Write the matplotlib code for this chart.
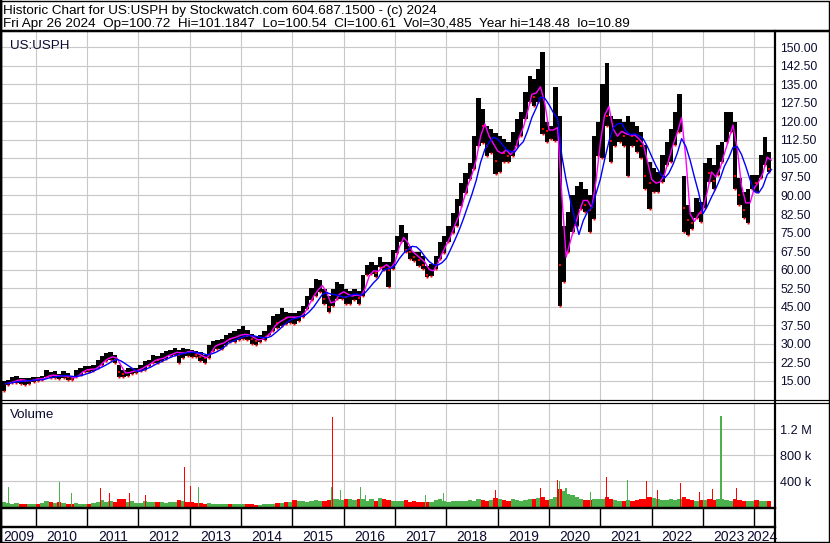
import numpy as np
import pandas as pd
import matplotlib
matplotlib.use("Agg")
import matplotlib.pyplot as plt

plt.rcParams["font.family"] = ["Liberation Sans", "DejaVu Sans"]

# monthly bars, May 2009 .. Apr 2024
months = pd.period_range("2009-05", "2024-04", freq="M")

month_lo = [
    10.9, 13.4, 14.0, 14.0, 13.8, 13.4, 13.6, 14.5,
    14.7, 15.1, 16.3, 16.0, 16.0, 15.7, 16.0, 15.4, 15.1, 16.5, 17.4, 18.4,
    18.4, 18.8, 20.2, 21.5, 22.9, 23.3, 22.2, 16.5, 16.5, 17.0, 17.8, 18.1,
    18.8, 19.5, 20.8, 22.2, 22.2, 22.9, 23.8, 24.9, 25.6, 22.2, 24.2, 24.9,
    24.5, 24.5, 23.0, 22.3, 24.0, 27.0, 28.0, 28.0, 29.5, 30.5, 30.5, 31.5,
    32.0, 31.5, 30.0, 29.5, 30.5, 31.5, 33.5, 35.0, 36.5, 37.0, 38.0, 38.5,
    38.0, 39.3, 40.7, 44.0, 47.5, 49.5, 50.8, 46.1, 42.7, 45.4, 48.1, 48.1,
    46.1, 46.1, 47.5, 46.1, 49.5, 57.6, 58.3, 57.0, 61.0, 59.7, 52.9, 60.2,
    66.9, 71.0, 67.0, 64.2, 63.6, 61.5, 60.2, 56.8, 57.5, 60.2, 64.2, 66.9,
    71.0, 75.0, 77.7, 85.8, 91.2, 96.6, 100.6, 110.0, 111.4, 106.0, 107.4, 98.7,
    99.4, 103.4, 103.4, 106.1, 110.2, 114.0, 121.0, 127.7, 126.4, 127.7, 115.0, 111.5,
    112.9, 112.0, 45.4, 55.0, 67.0, 75.1, 77.8, 84.5, 83.2, 75.1, 80.5, 106.0,
    105.0, 118.0, 103.4, 110.2, 111.5, 110.2, 98.0, 110.2, 107.6, 105.0, 92.8, 84.7,
    91.5, 91.5, 95.5, 102.3, 103.6, 110.3, 115.7, 75.3, 74.0, 76.6, 80.7, 79.3,
    85.0, 95.5, 92.8, 98.2, 103.6, 111.7, 115.7, 92.8, 86.0, 80.7, 78.7, 92.8,
    91.5, 96.9, 102.3, 99.6,
]
month_hi = [
    14.8, 15.4, 16.5, 16.8, 16.0, 16.0, 16.0, 16.3,
    16.5, 17.0, 19.2, 18.6, 18.8, 17.8, 18.8, 18.1, 17.0, 19.2, 20.2, 21.1,
    21.0, 21.5, 23.5, 24.9, 26.3, 26.5, 25.6, 21.5, 19.5, 20.2, 20.2, 20.2,
    21.5, 22.9, 23.5, 25.6, 24.9, 26.3, 27.0, 27.6, 28.3, 27.6, 28.3, 28.0,
    27.5, 27.0, 26.5, 25.5, 29.5, 31.0, 31.5, 32.0, 33.5, 34.5, 35.0, 36.0,
    37.3, 35.5, 34.0, 33.0, 33.5, 35.0, 37.5, 41.0, 42.0, 44.3, 43.0, 42.5,
    42.5, 43.4, 45.4, 49.5, 52.5, 56.3, 55.6, 52.2, 49.5, 52.2, 55.0, 54.2,
    52.2, 51.5, 52.2, 51.5, 57.6, 61.7, 63.0, 61.7, 65.0, 63.0, 63.0, 68.0,
    73.7, 78.0, 75.0, 69.6, 67.0, 67.0, 65.6, 61.5, 62.2, 65.6, 71.0, 73.7,
    77.7, 83.0, 88.5, 95.2, 99.3, 103.3, 114.0, 129.6, 125.0, 118.0, 116.8, 115.5,
    114.0, 112.9, 111.5, 115.6, 121.0, 123.7, 131.8, 138.5, 137.2, 141.2, 148.3, 119.6,
    118.3, 134.0, 122.3, 77.8, 83.2, 90.0, 94.0, 95.3, 92.6, 90.0, 114.2, 119.6,
    135.0, 143.7, 122.3, 121.0, 121.0, 119.6, 122.3, 119.6, 118.0, 115.7, 110.3, 103.6,
    101.0, 99.6, 106.3, 111.7, 117.0, 123.8, 131.2, 98.0, 86.0, 83.4, 88.8, 87.4,
    103.0, 105.0, 102.3, 110.3, 111.7, 123.8, 123.8, 119.8, 96.9, 91.5, 92.8, 98.2,
    98.2, 106.3, 113.7, 107.6,
]
month_close = [
    13.8, 14.3, 15.0, 15.5, 15.2, 14.8, 15.2, 15.8,
    15.6, 16.2, 17.5, 17.0, 17.2, 16.8, 17.0, 16.5, 15.8, 18.0, 19.0, 19.8,
    19.5, 20.0, 22.0, 23.5, 24.5, 24.8, 23.5, 18.5, 17.8, 18.8, 19.0, 19.5,
    20.5, 21.5, 22.5, 24.0, 23.5, 24.8, 25.5, 26.0, 27.0, 25.5, 27.0, 26.8,
    26.5, 25.5, 24.5, 24.0, 28.5, 29.5, 30.0, 30.5, 32.5, 32.0, 33.5, 33.5,
    34.0, 33.0, 32.0, 31.0, 32.5, 33.5, 35.5, 39.0, 38.5, 41.0, 40.5, 41.0,
    40.5, 41.5, 44.0, 48.0, 50.5, 53.0, 54.0, 48.0, 45.0, 49.0, 51.0, 51.0,
    49.0, 49.5, 50.0, 48.5, 56.0, 59.0, 60.0, 58.5, 63.0, 61.0, 60.0, 66.0,
    72.0, 74.0, 68.0, 67.0, 65.0, 64.0, 62.0, 58.0, 61.0, 64.0, 69.0, 71.0,
    76.0, 80.0, 84.0, 92.0, 96.0, 101.0, 108.0, 120.0, 118.0, 110.0, 112.0, 104.0,
    110.0, 107.0, 106.0, 111.0, 116.0, 119.0, 129.0, 133.0, 130.0, 138.0, 117.0, 116.0,
    117.0, 118.0, 62.0, 68.0, 75.0, 80.0, 86.0, 90.0, 86.0, 84.0, 108.0, 115.0,
    130.0, 122.0, 112.0, 116.0, 116.0, 114.0, 115.0, 114.0, 112.0, 110.0, 98.0, 95.0,
    95.0, 96.0, 101.0, 108.0, 113.0, 118.0, 125.0, 85.0, 80.0, 79.0, 86.0, 83.0,
    100.0, 99.0, 96.0, 106.0, 108.0, 117.0, 120.0, 98.0, 90.0, 84.0, 90.0, 96.0,
    95.0, 103.0, 108.0, 100.61,
]
# typical volume per month, thousands of shares
month_vol = [
    70, 60, 50, 55, 45, 50, 45, 50,
    50, 60, 90, 80, 60, 70, 55, 45, 40, 55, 50, 45,
    50, 60, 80, 110, 70, 90, 70, 130, 120, 80, 90, 60,
    60, 90, 70, 80, 75, 70, 60, 70, 80, 110, 90, 70,
    70, 60, 65, 50, 55, 50, 45, 40, 40, 45, 40, 40,
    40, 45, 40, 35, 35, 40, 45, 50, 55, 60, 70, 80,
    110, 90, 85, 80, 100, 110, 90, 100, 110, 130, 120, 110,
    120, 130, 110, 120, 130, 100, 120, 100, 140, 130, 110, 100,
    100, 90, 110, 80, 90, 80, 70, 70, 80, 110, 120, 90,
    80, 90, 100, 90, 100, 110, 90, 120, 110, 100, 110, 140,
    130, 110, 100, 120, 110, 100, 110, 120, 130, 140, 150, 110,
    120, 160, 280, 250, 200, 180, 160, 130, 110, 110, 130, 120,
    130, 150, 130, 110, 100, 100, 110, 100, 110, 120, 130, 160,
    140, 120, 110, 110, 120, 110, 120, 150, 120, 110, 100, 110,
    110, 120, 110, 120, 130, 110, 100, 120, 110, 100, 90, 100,
    110, 100, 95, 90,
]
# single-day volume spikes
spike_date = [2009.47, 2010.47, 2010.70, 2011.27, 2011.44, 2011.83, 2012.14, 2012.90,
              2013.01, 2013.17, 2015.77, 2015.79, 2015.94, 2016.32, 2016.43, 2017.60,
              2017.94, 2018.95, 2019.83, 2020.17, 2020.20, 2020.33, 2020.81, 2021.12,
              2021.53, 2021.90, 2022.12, 2022.56, 2022.93, 2023.18, 2023.35, 2023.66]
spike_vol = [306, 390, 221, 292, 221, 221, 193, 612,
             329, 315, 315, 1390, 268, 315, 188, 188,
             221, 259, 292, 424, 400, 292, 235, 456,
             414, 400, 268, 376, 235, 273, 1400, 296]
spike_up = [1, 1, 1, 0, 0, 0, 0, 0,
            0, 1, 1, 0, 1, 1, 1, 1,
            1, 0, 0, 0, 1, 1, 1, 0,
            1, 0, 0, 0, 0, 0, 1, 0]

price_ticks = [15.0, 22.5, 30.0, 37.5, 45.0, 52.5, 60.0, 67.5, 75.0, 82.5,
               90.0, 97.5, 105.0, 112.5, 120.0, 127.5, 135.0, 142.5, 150.0]
vol_ticks = [400, 800, 1200]
vol_labels = ["400 k", "800 k", "1.2 M"]
years = list(range(2010, 2025))
year_labels = [str(y) for y in range(2009, 2025)]

W, H = 830, 543
TXT = "#0c0c30"
GRID = "#c8c8c8"
GREEN = "#4cb04c"
RED = "#ff0000"


def box(x0, y0, x1, y1):
    # pixel box, y measured from the top
    return [x0 / W, 1 - y1 / H, (x1 - x0) / W, (y1 - y0) / H]


t_start = np.array([m.year + (m.month - 1) / 12 for m in months])
t_mid = t_start + 1 / 24
t_end = t_start + 1 / 12
lo = np.array(month_lo)
hi = np.array(month_hi)
close = pd.Series(month_close)
down = close.diff().fillna(0).values < 0

xlim = (2009.324, 2024.383)

fig = plt.figure(figsize=(W / 100, H / 100), dpi=100)

# price panel
axp = fig.add_axes(box(1, 31.5, 774, 399.5))
axp.bar(t_mid, hi - lo, bottom=lo, width=1 / 12, color="black", linewidth=0, zorder=3)
axp.plot(t_mid[down], close[down], "s", ms=1.6, mew=0, color="red", zorder=4)
axp.plot(t_mid, lo, "s", ms=1.4, mew=0, color="red", zorder=4)
axp.plot(t_end, close.rolling(2, min_periods=1).mean(), color="magenta", lw=1, zorder=5)
axp.plot(t_end, close.rolling(5, min_periods=1).mean(), color="#0000ff", lw=1, zorder=6)
axp.set_xlim(*xlim)
axp.set_ylim(7.39, 156.4)
axp.set_yticks(price_ticks)
axp.set_yticklabels([f"{v:.2f}" for v in price_ticks])
axp.yaxis.tick_right()
axp.tick_params(axis="y", length=0, pad=4.5, labelsize=8.8, labelcolor=TXT)
axp.set_xticks(years)
axp.tick_params(axis="x", length=0, labelbottom=False)
axp.grid(color=GRID, lw=0.8, zorder=0)
axp.set_axisbelow(True)
for s in axp.spines.values():
    s.set_visible(False)
axp.text(0.011, 0.978, "US:USPH", transform=axp.transAxes, va="top", ha="left",
         fontsize=9.6, color=TXT)

# volume panel
axv = fig.add_axes(box(1, 403, 774, 507))
vcol = [RED if d else GREEN for d in down]
axv.bar(t_mid, month_vol, width=1 / 12, color=vcol, linewidth=0, zorder=3)
axv.bar(spike_date, spike_vol, width=0.022, color=[GREEN if u else RED for u in spike_up],
        linewidth=0, zorder=3)
axv.set_xlim(*xlim)
axv.set_ylim(0, 1606)
axv.set_yticks(vol_ticks)
axv.set_yticklabels(vol_labels)
axv.yaxis.tick_right()
axv.tick_params(axis="y", length=0, pad=4.5, labelsize=9.2, labelcolor=TXT)
axv.set_xticks(years)
axv.tick_params(axis="x", length=0, labelbottom=False)
axv.grid(color=GRID, lw=0.8, zorder=0)
axv.set_axisbelow(True)
for s in axv.spines.values():
    s.set_visible(False)
axv.text(0.011, 0.94, "Volume", transform=axv.transAxes, va="top", ha="left",
         fontsize=9.6, color=TXT)

# year strip + labels
axs = fig.add_axes(box(1, 509, 774, 526))
axs.set_xlim(*xlim)
axs.set_ylim(0, 1)
axs.set_yticks([])
axs.set_xticks(years)
axs.tick_params(axis="x", which="major", length=0, labelbottom=False)
axs.grid(axis="x", color="black", lw=1.0)
centers = [(xlim[0] + 2010) / 2] + [y + 0.5 for y in range(2010, 2024)] + [2024.15]
axs.set_xticks(centers, minor=True)
axs.set_xticklabels(year_labels, minor=True)
axs.tick_params(axis="x", which="minor", length=0, pad=2.6, labelsize=10, labelcolor=TXT)
for s in axs.spines.values():
    s.set_visible(False)

# frame lines and header, in pixel coordinates
ov = fig.add_axes([0, 0, 1, 1], zorder=10)
ov.set_xlim(0, W)
ov.set_ylim(H, 0)
ov.axis("off")
ov.patch.set_alpha(0)
px = 0.72
ov.plot([0.5, 828.5, 828.5, 0.5, 0.5], [0.5, 0.5, 541.5, 541.5, 0.5], color="black", lw=1.4 * px)
ov.plot([1, 1], [0, 542], color="black", lw=2.5 * px)
ov.plot([0, 829], [30.5, 30.5], color="black", lw=2.5 * px)
ov.plot([774.5, 774.5], [31, 542], color="black", lw=2.2 * px)
ov.plot([0, 829], [400, 400], color="black", lw=1.2 * px)
ov.plot([0, 829], [402.5, 402.5], color="black", lw=1.2 * px)
ov.plot([0, 775], [508, 508], color="black", lw=2.4 * px)
ov.plot([0, 775], [527, 527], color="black", lw=2.4 * px)

ov.text(2.5, 14, "Historic Chart for US:USPH by Stockwatch.com 604.687.1500 - (c) 2024",
        fontsize=9.7, color="black", va="baseline", ha="left")
ov.text(2.5, 27.3, "Fri Apr 26 2024  Op=100.72  Hi=101.1847  Lo=100.54  Cl=100.61  "
        "Vol=30,485  Year hi=148.48  lo=10.89",
        fontsize=9.7, color="black", va="baseline", ha="left")

fig.savefig("out.png", dpi=100)
